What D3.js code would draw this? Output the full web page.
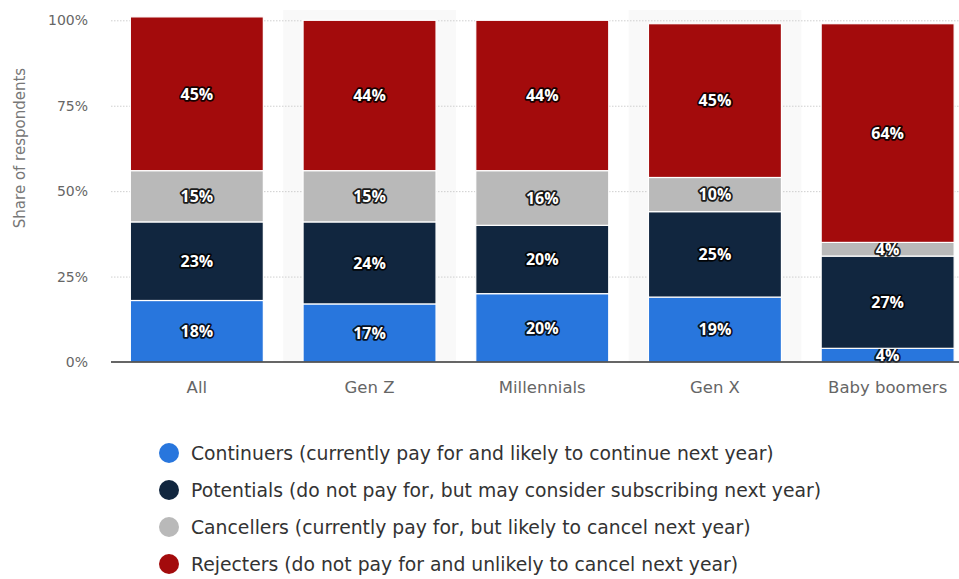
<!DOCTYPE html>
<html>
<head>
<meta charset="utf-8">
<title>Subscribers by generation</title>
<style>
  body { margin: 0; background: #fff; }
  svg { display: block; font-family: "DejaVu Sans", sans-serif; }
  .grid line { stroke: #cfcfcf; stroke-dasharray: 1.5 1.5; }
  .grid path { display: none; }
  .tick text { fill: #666; }
  .barlabel { fill: #fff; font-family: "Open Sans", sans-serif; font-weight: bold; font-size: 16px; stroke: rgba(0,0,0,0.85); stroke-width: 3.5px; stroke-linejoin: round; paint-order: stroke; }
</style>
</head>
<body>
<div id="chart"></div>
<script src="https://d3js.org/d3.v7.min.js"></script>
<script>
// data
var categories = ["All", "Gen Z", "Millennials", "Gen X", "Baby boomers"];
var continuers = [18, 17, 20, 19, 4];
var potentials = [23, 24, 20, 25, 27];
var cancellers = [15, 15, 16, 10, 4];
var rejecters  = [45, 44, 44, 45, 64];
var yTicks = [0, 25, 50, 75, 100];

var seriesNames = [
  "Continuers (currently pay for and likely to continue next year)",
  "Potentials (do not pay for, but may consider subscribing next year)",
  "Cancellers (currently pay for, but likely to cancel next year)",
  "Rejecters (do not pay for and unlikely to cancel next year)"
];
var colors = ["#2876dd", "#11263f", "#b9b9b9", "#a30b0c"];
var keys = ["continuers", "potentials", "cancellers", "rejecters"];

var table = categories.map(function(c, i) {
  return { cat: c, continuers: continuers[i], potentials: potentials[i], cancellers: cancellers[i], rejecters: rejecters[i] };
});

var W = 959, H = 579;
var svg = d3.select("#chart").append("svg").attr("width", W).attr("height", H);

var x = d3.scaleBand().domain(categories).range([110.5, 974]).paddingInner(0.23).paddingOuter(0.115);
var y = d3.scaleLinear().domain([0, 100]).range([362, 20.3]);

// alternating column shading
svg.selectAll("rect.shade")
  .data(categories.filter(function(d, i) { return i % 2 === 1; }))
  .enter().append("rect")
  .attr("class", "shade")
  .attr("x", function(d) { return x(d) - x.step() * x.paddingInner() / 2; })
  .attr("y", 10)
  .attr("width", x.step())
  .attr("height", y(0) - 10)
  .attr("fill", "#f9f9f9");

// gridlines
svg.append("g").attr("class", "grid")
  .attr("transform", "translate(111,0)")
  .call(d3.axisLeft(y).tickValues(yTicks.slice(1)).tickSize(-(W - 111)).tickFormat(""));

// y tick labels
svg.append("g")
  .attr("transform", "translate(88,0)")
  .call(d3.axisLeft(y).tickValues(yTicks).tickSize(0).tickPadding(0).tickFormat(function(d) { return d + "%"; }))
  .call(function(g) { g.select(".domain").remove(); })
  .selectAll("text").attr("font-size", 14).attr("font-family", "DejaVu Sans, sans-serif");

// y title
svg.append("text")
  .attr("transform", "translate(25,148) rotate(-90)")
  .attr("text-anchor", "middle")
  .attr("font-size", 15)
  .attr("fill", "#777")
  .text("Share of respondents");

// bars
var stacked = d3.stack().keys(keys)(table);
var layers = svg.selectAll("g.layer")
  .data(stacked)
  .enter().append("g")
  .attr("class", "layer")
  .attr("fill", function(d, i) { return colors[i]; });

layers.selectAll("rect")
  .data(function(d) { return d; })
  .enter().append("rect")
  .attr("x", function(d) { return x(d.data.cat); })
  .attr("y", function(d) { return y(d[1]); })
  .attr("width", x.bandwidth())
  .attr("height", function(d) { return y(d[0]) - y(d[1]); })
  .attr("stroke", "#fff")
  .attr("stroke-width", 1.2);

// baseline
svg.append("line")
  .attr("x1", 111).attr("x2", W)
  .attr("y1", y(0)).attr("y2", y(0))
  .attr("stroke", "#333").attr("stroke-width", 1.5);

// bar labels
layers.selectAll("text")
  .data(function(d) { return d; })
  .enter().append("text")
  .attr("class", "barlabel")
  .attr("x", function(d) { return x(d.data.cat) + x.bandwidth() / 2; })
  .attr("y", function(d) { return (y(d[0]) + y(d[1])) / 2; })
  .attr("text-anchor", "middle")
  .attr("dy", "0.36em")
  .text(function(d) { return (d[1] - d[0]) + "%"; });

// x labels
svg.append("g")
  .attr("transform", "translate(0," + y(0) + ")")
  .call(d3.axisBottom(x).tickSize(0).tickPadding(19))
  .call(function(g) { g.select(".domain").remove(); })
  .selectAll("text").attr("font-size", 16.5).attr("font-family", "DejaVu Sans, sans-serif");

// legend
var legend = svg.selectAll("g.legend")
  .data(seriesNames)
  .enter().append("g")
  .attr("class", "legend")
  .attr("transform", function(d, i) { return "translate(169," + (453 + i * 37) + ")"; });

legend.append("circle").attr("r", 10).attr("fill", function(d, i) { return colors[i]; });
legend.append("text")
  .attr("x", 22)
  .attr("dy", "0.36em")
  .attr("font-size", 18.8)
  .attr("fill", "#333")
  .text(function(d) { return d; });
</script>
</body>
</html>
